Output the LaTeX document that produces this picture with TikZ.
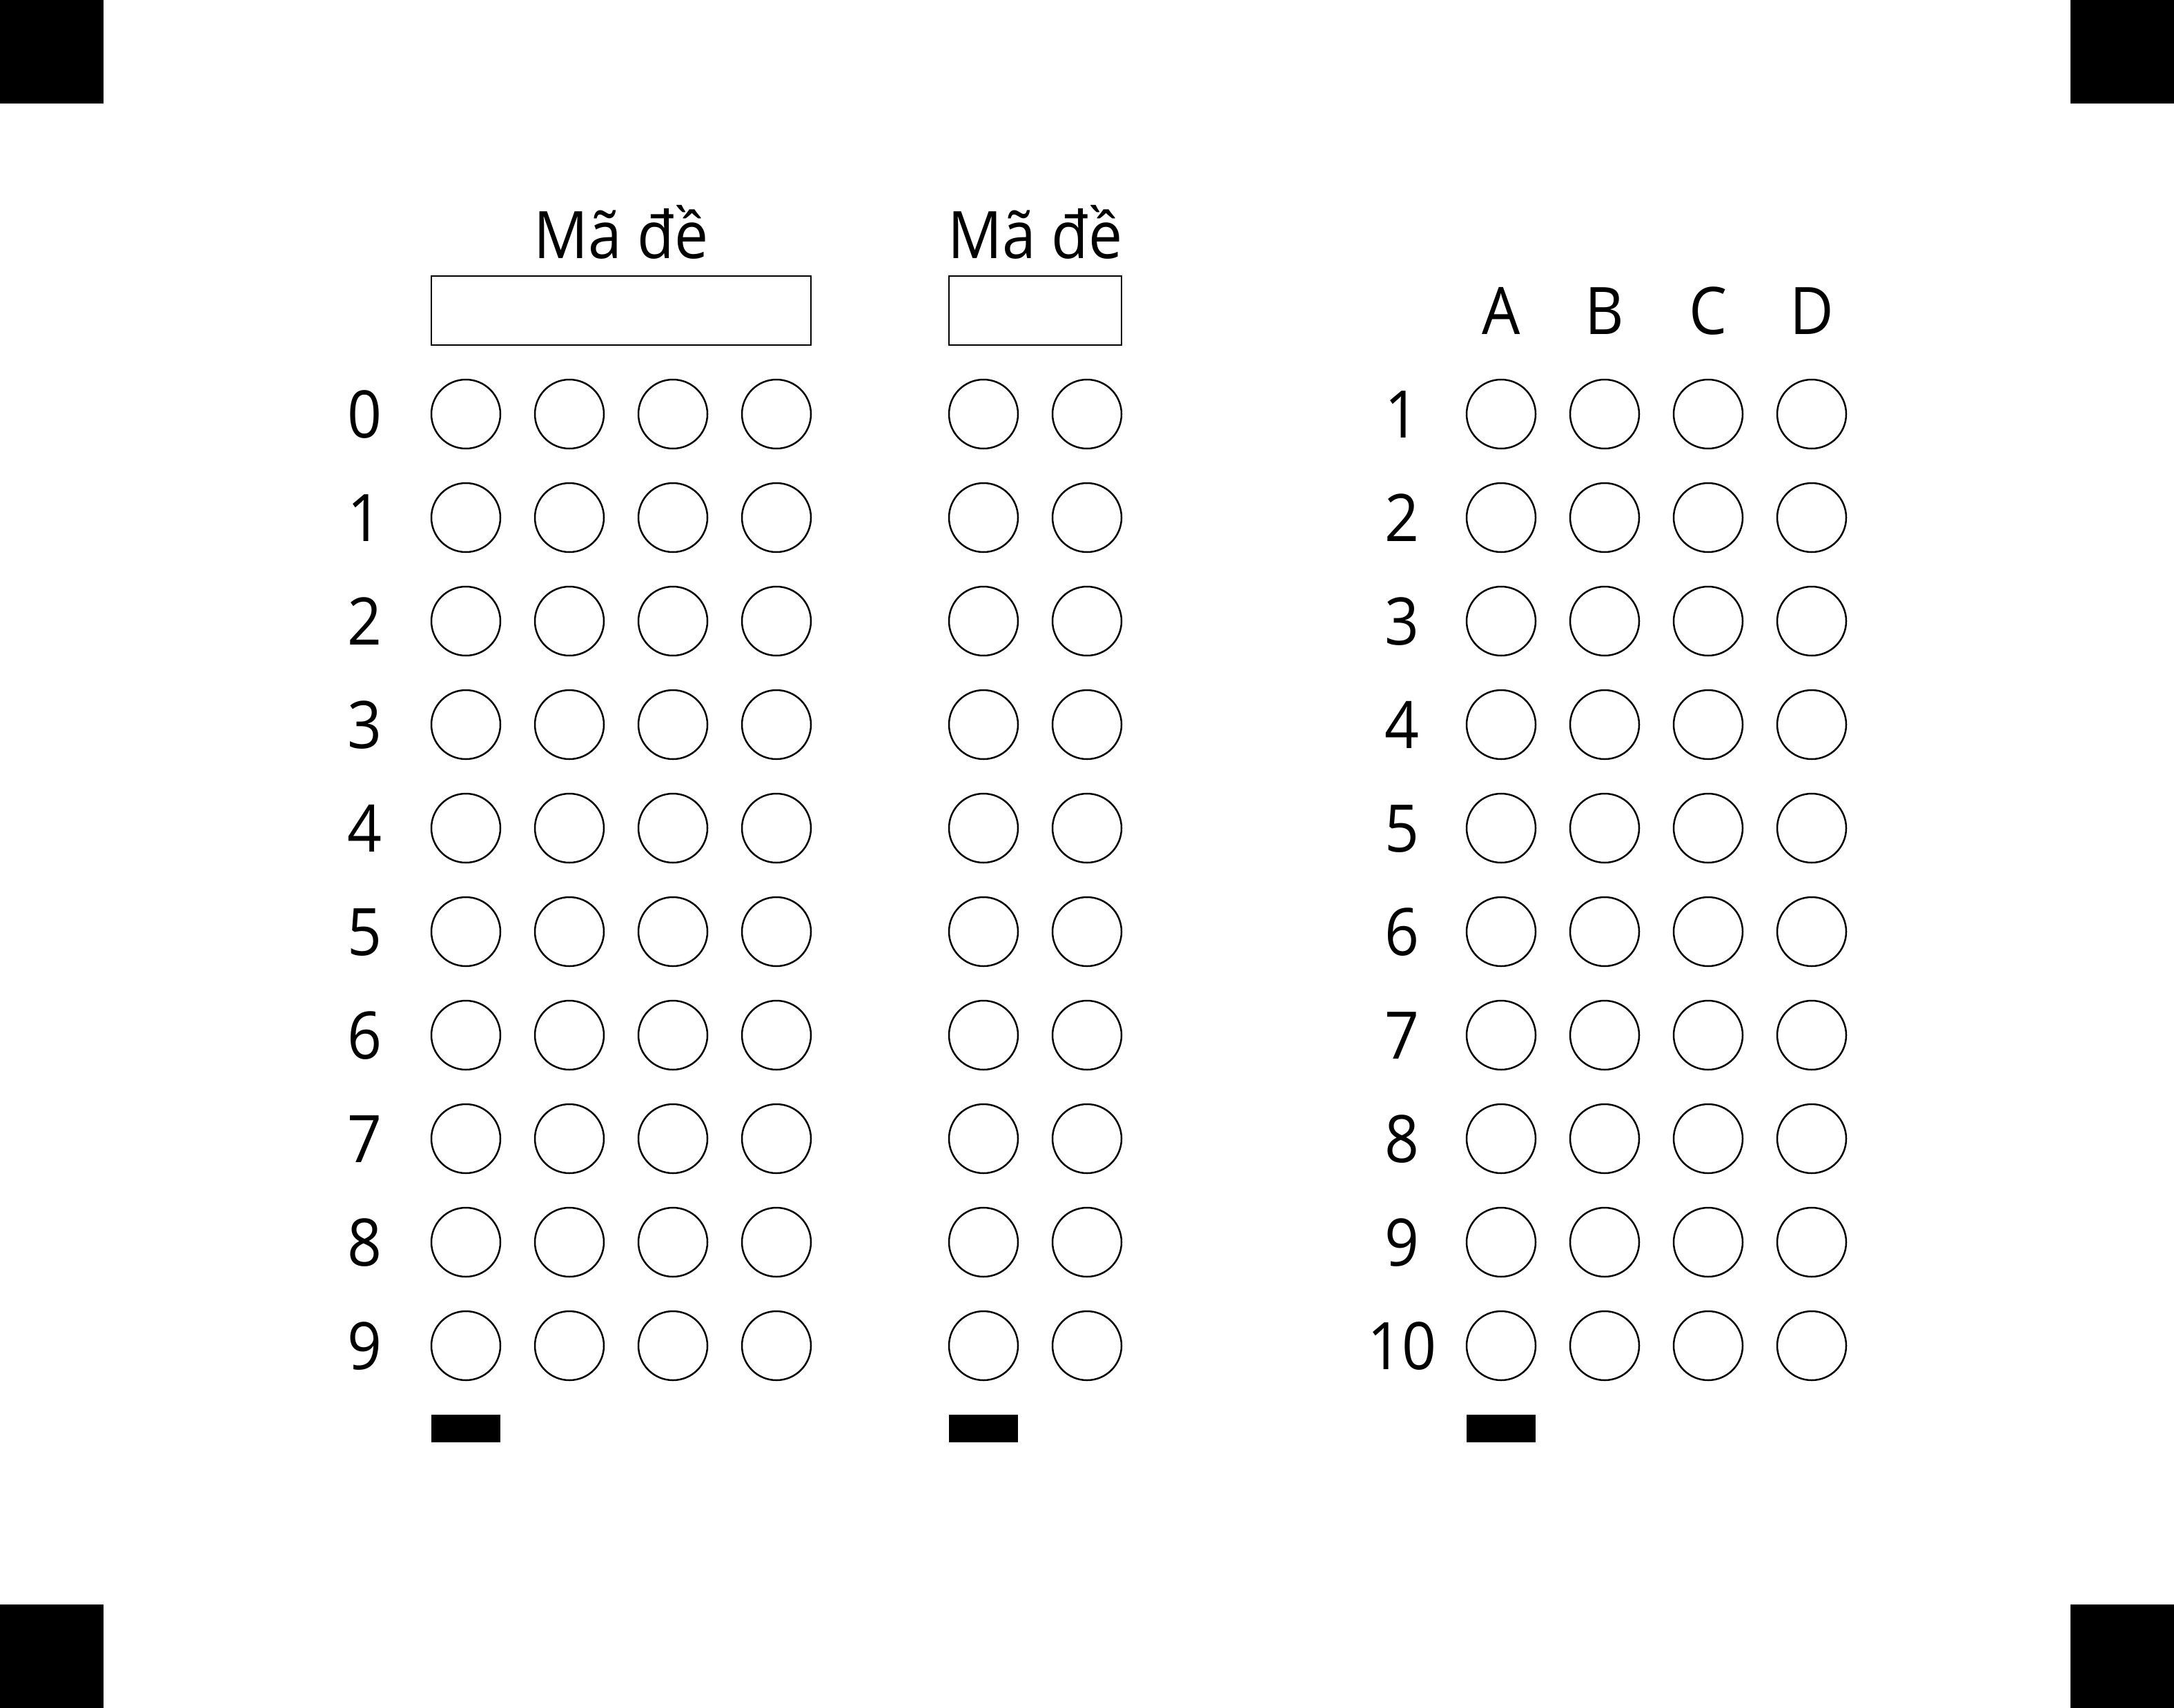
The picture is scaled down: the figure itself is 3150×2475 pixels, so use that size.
\documentclass[tikz,border=0pt]{standalone}
\usepackage{fontspec}
\setmainfont{Open Sans}[FakeStretch=0.92]
\begin{document}
\begin{tikzpicture}[x=1pt,y=-1pt,
  bubble/.style={circle,draw,line width=2.5pt,minimum size=100pt,inner sep=0pt},
  lbl/.style={font=\fontsize{95}{95}\selectfont,anchor=base,inner sep=0pt},
  codebox/.style={draw,line width=2.5pt,minimum height=100pt,inner sep=0pt},
  timing/.style={fill=black,draw=none,minimum width=100pt,minimum height=40pt,inner sep=0pt},
  corner/.style={fill=black,draw=none,minimum size=150pt,inner sep=0pt}]
\useasboundingbox (0,0) rectangle (3150,2475);
% corner marks
\node[corner] (cTL) at (75,75) {};
\node[corner] (cTR) at (3075,75) {};
\node[corner] (cBL) at (75,2400) {};
\node[corner] (cBR) at (3075,2400) {};
% headers
\node[lbl] (tL) at (900,374) {Mã đề};
\node[codebox,minimum width=550pt] (boxL) at (900,450) {};
\node[lbl] (tM) at (1500,374) {Mã đề};
\node[codebox,minimum width=250pt] (boxM) at (1500,450) {};
\foreach \t/\x in {A/2175,B/2325,C/2475,D/2625}
  \node[lbl] (h\t) at (\x,484) {\t};
% left and middle blocks
\foreach \r in {0,...,9} {
  \pgfmathsetmacro\yy{600+150*\r}
  \node[lbl] (la\r) at (528,\yy+34) {\r};
  \foreach \c [count=\i] in {675,825,975,1125}
    \node[bubble] (a\r-\i) at (\c,\yy) {};
  \foreach \c [count=\i] in {1425,1575}
    \node[bubble] (b\r-\i) at (\c,\yy) {};
}
% right block
\foreach \r in {1,...,10} {
  \pgfmathsetmacro\yy{600+150*(\r-1)}
  \node[lbl] (lc\r) at (2031,\yy+34) {\r};
  \foreach \c [count=\i] in {2175,2325,2475,2625}
    \node[bubble] (c\r-\i) at (\c,\yy) {};
}
% timing bars
\node[timing] (barL) at (675,2070) {};
\node[timing] (barM) at (1425,2070) {};
\node[timing] (barR) at (2175,2070) {};
\end{tikzpicture}
\end{document}
